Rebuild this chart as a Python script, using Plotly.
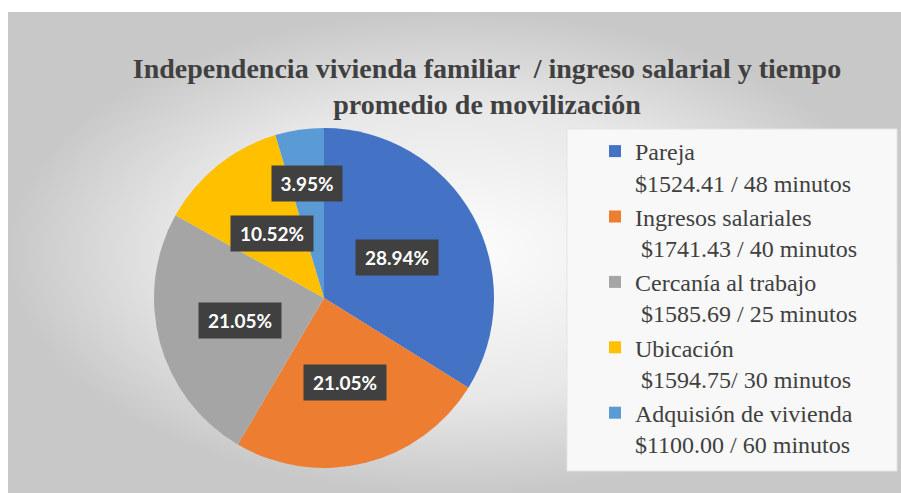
import plotly.graph_objects as go
import numpy as np

# data
categories = ["Pareja", "Ingresos salariales", "Cercanía al trabajo", "Ubicación", "Adquisión de vivienda"]
details = ["$1524.41 / 48 minutos", "\u00a0$1741.43 / 40 minutos", "\u00a0$1585.69 / 25 minutos",
           "\u00a0$1594.75/ 30 minutos", "$1100.00 / 60 minutos"]
shares = [28.94, 21.05, 21.05, 10.52, 3.95]

colors = ["#4472C4", "#ED7D31", "#A5A5A5", "#FFC000", "#5B9BD5"]
label_radius = [0.49, 0.51, 0.51, 0.49, 0.68]  # where each data label sits, as a fraction of the radius

W, H = 901, 493
cx, cy, R = 324, 298, 170    # pie centre / radius in pixels


def px(x):
    return x / W


def py(y):
    return 1 - y / H


fig = go.Figure()

# chart area with radial gradient background
fig.add_trace(go.Scatter(
    x=[8, 901, 901, 8, 8], y=[12, 12, 493, 493, 12],
    mode="lines", fill="toself", line=dict(width=0),
    fillgradient=dict(type="radial", colorscale=[[0, "#fdfdfd"], [0.6, "#e8e8e8"], [1, "#c8c8c8"]]),
    hoverinfo="skip", showlegend=False,
))

fig.add_trace(go.Pie(
    labels=[f"{c}<br>{d}" for c, d in zip(categories, details)],
    values=shares,
    sort=False, direction="clockwise", rotation=0,
    marker=dict(colors=colors, line=dict(width=0)),
    textinfo="none", hoverinfo="label+value",
    domain=dict(x=[px(cx - R), px(cx + R)], y=[py(cy + R), py(cy - R)]),
))

# data labels in dark boxes, placed at each slice's mid angle
total = sum(shares)
start = 0.0
for v, f in zip(shares, label_radius):
    mid = np.radians((start + v / 2) / total * 360)
    start += v
    txt = f"{v:.2f}%"
    fig.add_annotation(
        x=cx + f * R * np.sin(mid), y=cy - f * R * np.cos(mid),
        xref="x", yref="y", text=f"<b>{txt}</b>", showarrow=False,
        font=dict(family="Lato, Open Sans, sans-serif", size=19, color="white"),
        bgcolor="#404040", width=12 * len(txt) + 10, height=35, borderpad=0,
    )

# legend box
fig.add_shape(type="rect", xref="x", yref="y", x0=567, x1=897, y0=129, y1=471,
              fillcolor="#f8f8f8", line=dict(color="#e4e4e4", width=1), layer="above")

fig.update_layout(
    width=W, height=H,
    margin=dict(l=0, r=0, t=0, b=0),
    paper_bgcolor="white", plot_bgcolor="rgba(0,0,0,0)",
    xaxis=dict(range=[0, W], visible=False, fixedrange=True),
    yaxis=dict(range=[H, 0], visible=False, fixedrange=True),
    title=dict(
        text="<b>Independencia vivienda familiar  / ingreso salarial y tiempo<br>promedio de movilización</b>",
        x=px(487), xanchor="center", y=py(78), yanchor="middle",
        font=dict(family="Liberation Serif, Times New Roman, serif", size=28, color="#404040"),
    ),
    legend=dict(
        x=px(595), xanchor="left", y=py(129), yanchor="top",
        bgcolor="rgba(0,0,0,0)", valign="top",
        font=dict(family="Liberation Serif, Times New Roman, serif", size=24, color="#404040"),
    ),
    showlegend=True,
)

fig.write_html("out.html", config={"displayModeBar": False},
               post_script="document.body.style.margin='0';")
